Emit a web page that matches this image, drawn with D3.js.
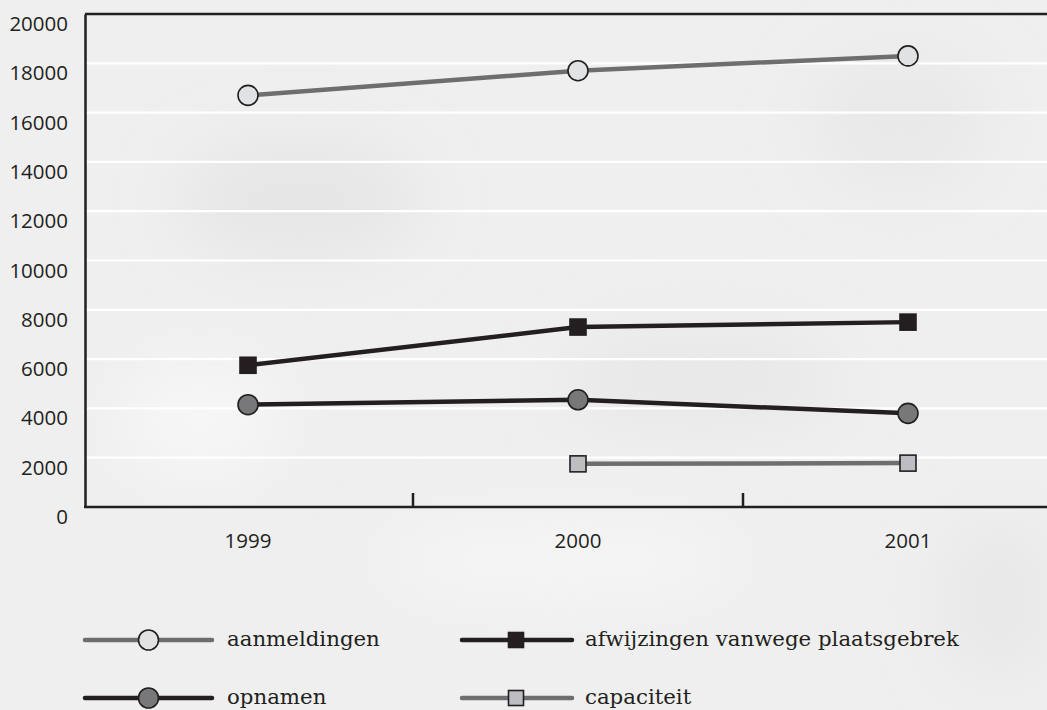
<!DOCTYPE html>
<html>
<head>
<meta charset="utf-8">
<script src="https://cdn.jsdelivr.net/npm/d3@7"></script>
<style>
html,body{margin:0;padding:0;background:#efefef;}
svg{display:block;}
</style>
</head>
<body>
<svg id="chart" width="1047" height="710"></svg>
<script>
const years = ["1999", "2000", "2001"];
const yTicks = [0, 2000, 4000, 6000, 8000, 10000, 12000, 14000, 16000, 18000, 20000];
const aanmeldingen = [16700, 17700, 18300];
const afwijzingen = [5750, 7300, 7500];
const opnamen = [4150, 4350, 3800];
const capaciteit = [null, 1750, 1780];
const seriesNames = ["aanmeldingen", "afwijzingen vanwege plaatsgebrek", "opnamen", "capaciteit"];

(function () {
const series = [
  {name: seriesNames[0], values: aanmeldingen, line: "#6e6e6e", marker: "circle", fill: "#e1e2e4"},
  {name: seriesNames[1], values: afwijzingen, line: "#231f20", marker: "square", fill: "#231f20"},
  {name: seriesNames[2], values: opnamen, line: "#231f20", marker: "circle", fill: "#78787a"},
  {name: seriesNames[3], values: capaciteit, line: "#6e6e6e", marker: "square", fill: "#bdbec1"}
];

const svg = d3.select("#chart");
const W = 1047, H = 710;
const mLeft = 85, mTop = 14, mBottom = 507;

// background with soft texture
const defs = svg.append("defs");
const blur = defs.append("filter").attr("id", "blur").attr("x", "-50%").attr("y", "-50%").attr("width", "200%").attr("height", "200%");
blur.append("feGaussianBlur").attr("stdDeviation", 30);
svg.append("rect").attr("width", W).attr("height", H).attr("fill", "#efefef");
const blobs = svg.append("g").attr("filter", "url(#blur)");
[[300,200,120,60,"#e6e6e6"],[700,380,140,50,"#e8e8e8"],[900,120,90,70,"#e9e9e9"],[200,420,80,60,"#f6f6f6"],[560,560,180,40,"#f5f5f5"],[1000,600,60,80,"#e8e8e8"]]
  .forEach(b => blobs.append("ellipse").attr("cx", b[0]).attr("cy", b[1]).attr("rx", b[2]).attr("ry", b[3]).attr("fill", b[4]));

const x = d3.scaleBand().domain(years).range([83, 1073]);
const y = d3.scaleLinear().domain([0, 20000]).range([mBottom, mTop]);

// gridlines
svg.append("g").selectAll("line").data(yTicks.filter(d => d > 0 && d < 20000)).join("line")
  .attr("x1", mLeft).attr("x2", W).attr("y1", d => y(d)).attr("y2", d => y(d))
  .attr("stroke", "#ffffff").attr("stroke-width", 2.2);

// top border
svg.append("line").attr("x1", mLeft).attr("x2", W).attr("y1", y(20000)).attr("y2", y(20000))
  .attr("stroke", "#231f20").attr("stroke-width", 2.5);

// y axis
const yAxis = svg.append("g").attr("transform", `translate(${mLeft},0)`)
  .call(d3.axisLeft(y).tickValues(yTicks).tickSize(0).tickPadding(17).tickFormat(d3.format("d")));
yAxis.select(".domain").attr("stroke", "#231f20").attr("stroke-width", 2.5);
yAxis.selectAll("text").attr("font-family", "'Open Sans', sans-serif").attr("font-size", 20.5)
  .attr("fill", "#231f20").attr("transform", "translate(0,10)");

// x axis
const xAxis = svg.append("g").attr("transform", `translate(0,${mBottom})`)
  .call(d3.axisBottom(x).tickSize(0).tickPadding(26));
xAxis.select(".domain").remove();
xAxis.selectAll("text").attr("font-family", "'Open Sans', sans-serif").attr("font-size", 20.5).attr("fill", "#231f20");
svg.append("line").attr("x1", mLeft - 1).attr("x2", W).attr("y1", mBottom).attr("y2", mBottom)
  .attr("stroke", "#231f20").attr("stroke-width", 2.5);
// category separators
svg.append("g").selectAll("line").data(years.slice(1)).join("line")
  .attr("x1", d => x(d)).attr("x2", d => x(d)).attr("y1", mBottom).attr("y2", mBottom - 14)
  .attr("stroke", "#231f20").attr("stroke-width", 2.5);

const cx = d => x(d) + x.bandwidth() / 2;

function drawMarker(g, type, px, py, fill, r, s) {
  if (type === "circle") {
    g.append("circle").attr("cx", px).attr("cy", py).attr("r", r)
      .attr("fill", fill).attr("stroke", "#231f20").attr("stroke-width", 1.6);
  } else {
    g.append("rect").attr("x", px - s / 2).attr("y", py - s / 2).attr("width", s).attr("height", s)
      .attr("fill", fill).attr("stroke", "#231f20").attr("stroke-width", 1.6);
  }
}

const line = d3.line().defined(d => d.v != null).x(d => cx(d.k)).y(d => y(d.v));
series.forEach(s => {
  const pts = years.map((k, i) => ({k, v: s.values[i]}));
  svg.append("path").datum(pts).attr("d", line).attr("fill", "none")
    .attr("stroke", s.line).attr("stroke-width", 4.5).attr("stroke-linejoin", "round");
  const g = svg.append("g");
  pts.filter(p => p.v != null).forEach(p => drawMarker(g, s.marker, cx(p.k), y(p.v), s.fill, 10, 16));
});

// legend
const legendPos = [
  {x0: 85, x1: 212, text: 227, y: 640},
  {x0: 462, x1: 572, text: 585, y: 640},
  {x0: 85, x1: 212, text: 227, y: 698},
  {x0: 462, x1: 572, text: 585, y: 698}
];
series.forEach((s, i) => {
  const p = legendPos[i];
  const g = svg.append("g");
  g.append("line").attr("x1", p.x0).attr("x2", p.x1).attr("y1", p.y).attr("y2", p.y)
    .attr("stroke", s.line).attr("stroke-width", 4.5).attr("stroke-linecap", "round");
  drawMarker(g, s.marker, (p.x0 + p.x1) / 2 + (i % 2 === 0 ? 0 : -1), p.y, s.fill, 10, 15);
  g.append("text").attr("x", p.text).attr("y", p.y).attr("dy", "0.3em")
    .attr("font-family", "'DejaVu Serif', serif").attr("font-size", 21.3).attr("fill", "#231f20")
    .text(s.name);
});
})();
</script>
</body>
</html>
